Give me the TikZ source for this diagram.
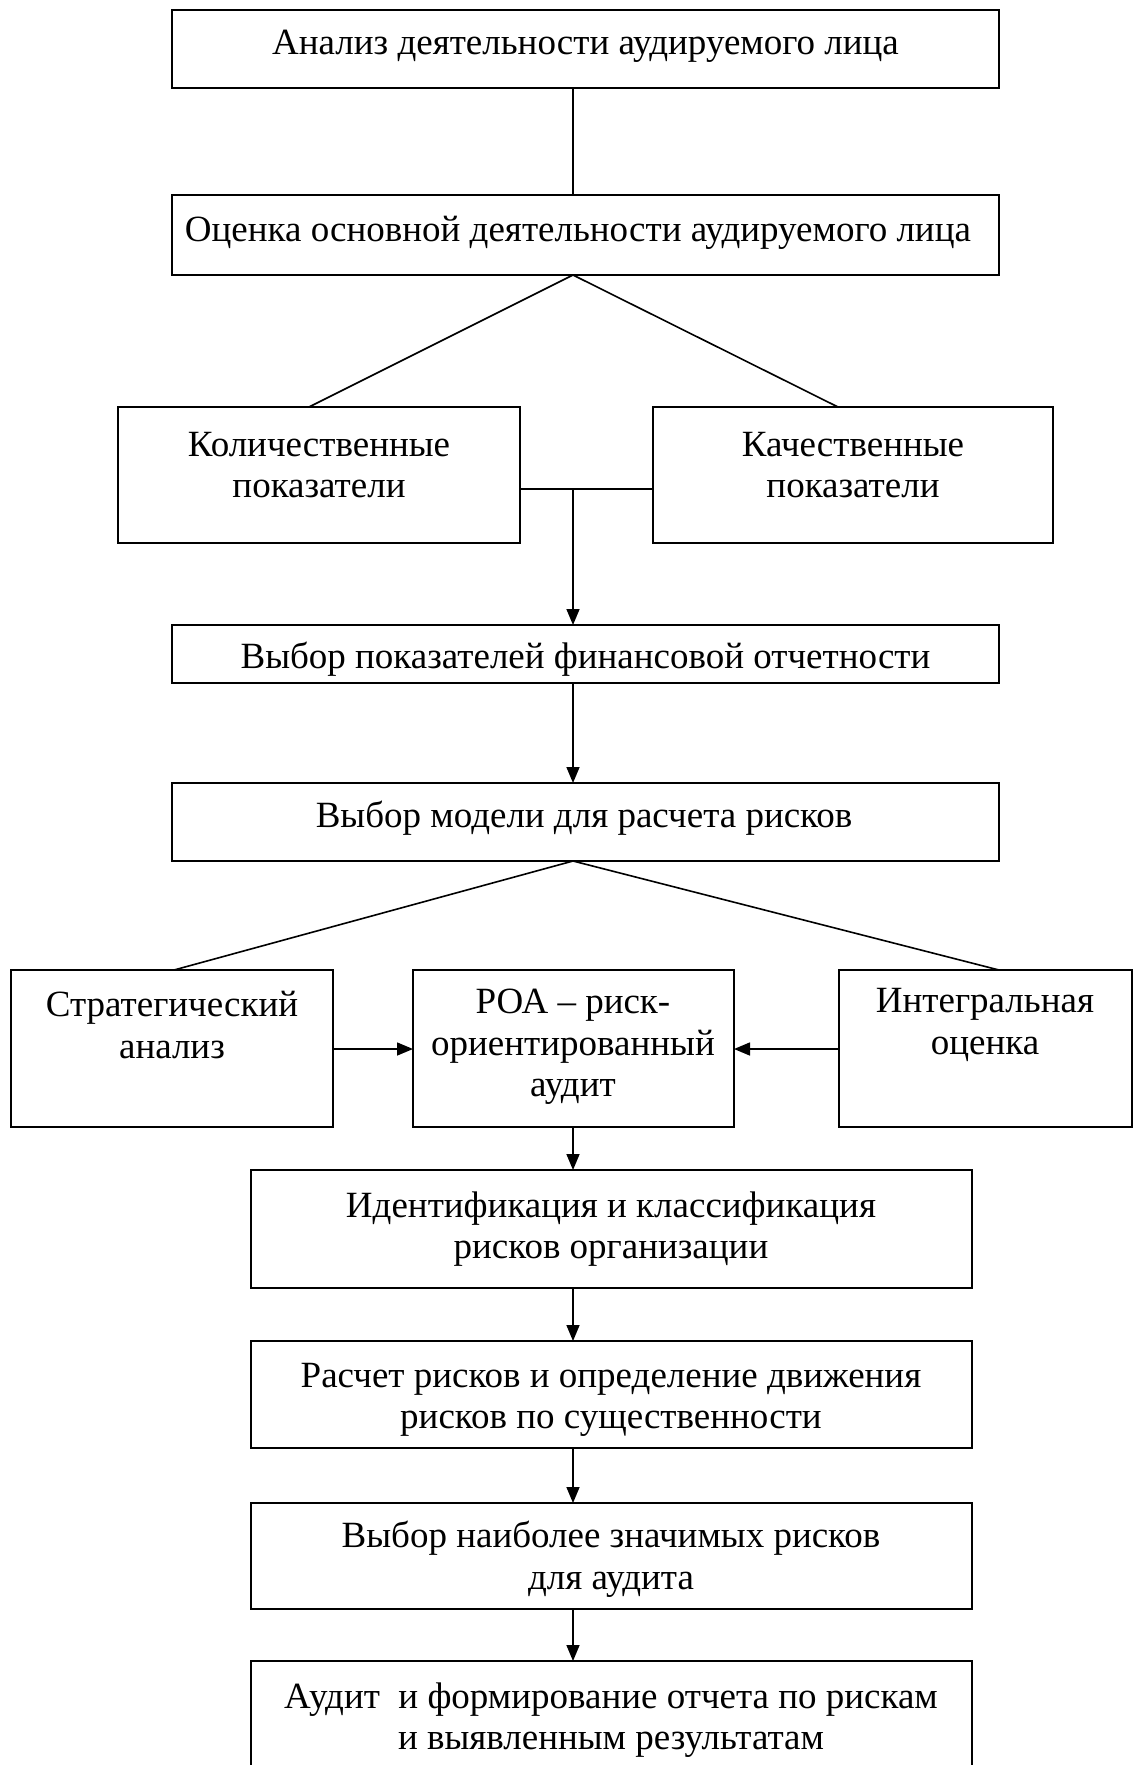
\documentclass[tikz,border=0pt]{standalone}
\usepackage{fontspec}
\setmainfont{Liberation Serif}
\usetikzlibrary{arrows.meta}
\begin{document}
\begin{tikzpicture}[x=1pt,y=-1pt,
  box/.style={draw,line width=1.6pt,inner sep=0pt,outer sep=0pt},
  txt/.style={align=center,inner sep=0pt,font=\fontsize{37}{41.5}\selectfont},
  conn/.style={line width=1.6pt},
  arr/.style={line width=1.6pt,-{Triangle[length=16pt,width=13pt]}}]
\useasboundingbox (0,0) rectangle (1133,1765);
% boxes
\node[box,minimum width=827pt,minimum height=78pt] (b1) at (585.5,49) {};
\node[box,minimum width=827pt,minimum height=80pt] (b2) at (585.5,235) {};
\node[box,minimum width=402pt,minimum height=136pt] (b3) at (319,475) {};
\node[box,minimum width=400pt,minimum height=136pt] (b4) at (853,475) {};
\node[box,minimum width=827pt,minimum height=58pt] (b5) at (585.5,654) {};
\node[box,minimum width=827pt,minimum height=78pt] (b6) at (585.5,822) {};
\node[box,minimum width=322pt,minimum height=157pt] (b7) at (172,1048.5) {};
\node[box,minimum width=321pt,minimum height=157pt] (b8) at (573.5,1048.5) {};
\node[box,minimum width=293pt,minimum height=157pt] (b9) at (985.5,1048.5) {};
\node[box,minimum width=721pt,minimum height=118pt] (b10) at (611.5,1229) {};
\node[box,minimum width=721pt,minimum height=107pt] (b11) at (611.5,1394.5) {};
\node[box,minimum width=721pt,minimum height=106pt] (b12) at (611.5,1556) {};
\node[box,minimum width=721pt,minimum height=160pt] (b13) at (611.5,1741) {};
% texts
\node[txt] (t1) at (585.5,46) {Анализ деятельности аудируемого лица};
\node[txt] (t2) at (578,233) {Оценка основной деятельности аудируемого лица};
\node[txt] (t3) at (319,465) {Количественные\\показатели};
\node[txt] (t4) at (853,465) {Качественные\\показатели};
\node[txt] (t5) at (585.5,659) {Выбор показателей финансовой отчетности};
\node[txt] (t6) at (584,818) {Выбор модели для расчета рисков};
\node[txt] (t7) at (172,1025) {Стратегический\\анализ};
\node[txt] (t8) at (573,1047) {РОА – риск-\\ориентированный\\аудит};
\node[txt] (t9) at (985,1025) {Интегральная\\оценка};
\node[txt] (t10) at (611,1229) {Идентификация и классификация\\рисков организации};
\node[txt] (t11) at (611,1400) {Расчет рисков и определение движения\\рисков по существенности};
\node[txt] (t12) at (611,1559) {Выбор наиболее значимых рисков\\для аудита};
\node[txt] (t13) at (611,1720) {Аудит\ \ и формирование отчета по рискам\\и выявленным результатам};
% junction coordinates
\coordinate (j1) at (573,489);
\coordinate (b3top) at (309,407);
\coordinate (b4top) at (838,407);
\coordinate (b7top) at (174,970);
\coordinate (b9top) at (999,970);
% connectors
\draw[conn] (b1.south -| j1) -- (b2.north -| j1);
\draw[conn] (b2.south -| j1) -- (b3top);
\draw[conn] (b2.south -| j1) -- (b4top);
\draw[conn] (b3.east |- j1) -- (b4.west |- j1);
\draw[arr] (j1) -- (b5.north -| j1);
\draw[arr] (b5.south -| j1) -- (b6.north -| j1);
\draw[conn] (b6.south -| j1) -- (b7top);
\draw[conn] (b6.south -| j1) -- (b9top);
\draw[arr] (b7.east |- 0,1049) -- (b8.west |- 0,1049);
\draw[arr] (b9.west |- 0,1049) -- (b8.east |- 0,1049);
\draw[arr] (b8.south -| j1) -- (b10.north -| j1);
\draw[arr] (b10.south -| j1) -- (b11.north -| j1);
\draw[arr] (b11.south -| j1) -- (b12.north -| j1);
\draw[arr] (b12.south -| j1) -- (b13.north -| j1);
\end{tikzpicture}
\end{document}
